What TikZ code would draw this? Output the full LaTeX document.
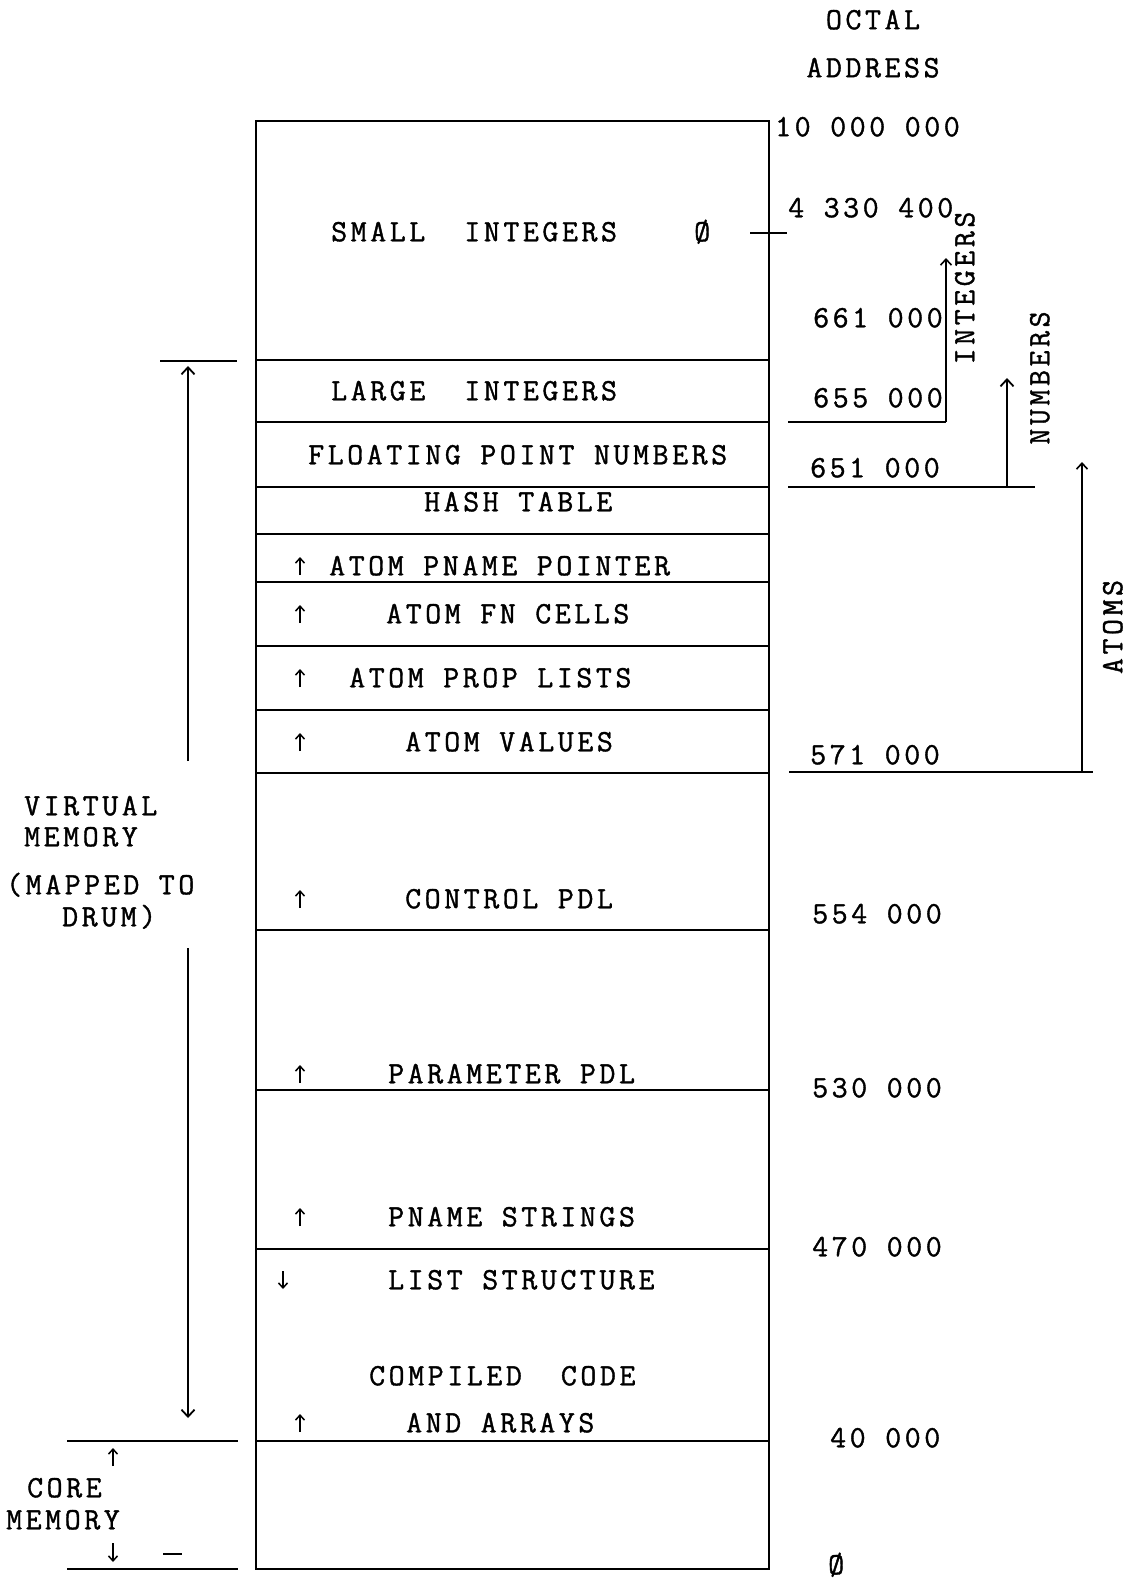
\documentclass[tikz,border=0pt]{standalone}
\usepackage{fontspec}
\setmainfont{Latin Modern Mono}[LetterSpace=11.5,FakeBold=1.2]
\usetikzlibrary{arrows.meta}
\begin{document}
\begin{tikzpicture}[x=1pt,y=-1pt,
  txt/.style={font=\fontsize{31}{36}\selectfont, inner sep=0pt, text height=18.5pt, text depth=0pt, anchor=west},
  rtxt/.style={font=\fontsize{31}{36}\selectfont, inner sep=0pt, text height=18.5pt, text depth=0pt, anchor=center, rotate=90},
  boxline/.style={line width=1.8pt},
  sideline/.style={line width=1.6pt},
  thickline/.style={line width=2.8pt},
  bigarrow/.style={line width=1.6pt, -{Straight Barb[length=7pt,width=13pt,line width=1.8pt]}},
  thinarrow/.style={line width=1.1pt, -{Straight Barb[length=6pt,width=11pt,line width=1.6pt]}},
  smallarrow/.style={line width=1.4pt, -{Straight Barb[length=5pt,width=9pt,line width=1.5pt]}}
]
\useasboundingbox (0,0) rectangle (1129,1581);
% main box
\coordinate (tl) at (256,121);
\coordinate (br) at (769,1569);
\draw[boxline] (tl) rectangle (br);
\foreach \yy in {360,422,487,534,582,646,710,773,930,1090,1249,1441}
  \draw[boxline] (256,\yy) -- (769,\yy);

% box texts
\node[txt] (si) at (331,232) {SMALL\ \ INTEGERS};
\node[txt] (sz) at (694,232) {Ø};
\node[txt] (li) at (331,391) {LARGE\ \ INTEGERS};
\node[txt] (fp) at (308,455) {FLOATING POINT NUMBERS};
\node[txt] (ht) at (424,502) {HASH TABLE};
\node[txt] (ap) at (329,566) {ATOM PNAME POINTER};
\node[txt] (af) at (386,614) {ATOM FN CELLS};
\node[txt] (al) at (349,678) {ATOM PROP LISTS};
\node[txt] (av) at (405,742) {ATOM VALUES};
\node[txt] (cp) at (405,899) {CONTROL PDL};
\node[txt] (pp) at (388,1074) {PARAMETER PDL};
\node[txt] (ps) at (388,1217) {PNAME STRINGS};
\node[txt] (ls) at (388,1280) {LIST STRUCTURE};
\node[txt] (cc) at (369,1376) {COMPILED\ \ CODE};
\node[txt] (aa) at (406,1423) {AND ARRAYS};

% small arrows inside box
\foreach \yy/\nm in {566/a1,614/a2,678/a3,742/a4,899/a5,1074/a6,1217/a7,1423/a8}{
  \coordinate (\nm s) at (300,\yy+9);
  \coordinate (\nm e) at (300,\yy-9);
  \draw[smallarrow] (\nm s) -- (\nm e);
}
\coordinate (lss) at (283,1271);
\coordinate (lse) at (283,1289);
\draw[smallarrow] (lss) -- (lse);

% right side addresses
\node[txt,anchor=center] (oct) at (873,20) {OCTAL};
\node[txt,anchor=center] (adr) at (873,68) {ADDRESS};
\node[txt] (n1) at (775,127) {10 000 000};
\node[txt] (n2) at (788,208) {4 330 400};
\node[txt] (n3) at (813,318) {661 000};
\node[txt] (n4) at (813,398) {655 000};
\node[txt] (n5) at (810,468) {651 000};
\node[txt] (n6) at (810,755) {571 000};
\node[txt] (n7) at (812,914) {554 000};
\node[txt] (n8) at (812,1088) {530 000};
\node[txt] (n9) at (812,1247) {470 000};
\node[txt] (n10) at (830,1438) {40 000};
\node[txt] (n11) at (828,1565) {Ø};

% tick at small integer zero
\coordinate (tk1) at (750,233);
\coordinate (tk2) at (787,233);
\draw[sideline] (tk1) -- (tk2);

% INTEGERS bracket
\coordinate (i1) at (788,422);
\coordinate (i2) at (946,422);
\coordinate (i3) at (946,258);
\draw[sideline] (i1) -- (i2);
\draw[thinarrow] (i2) -- (i3);
\node[rtxt] (intl) at (965,288) {INTEGERS};

% NUMBERS bracket
\coordinate (m1) at (788,487);
\coordinate (m2) at (1035,487);
\coordinate (m3) at (1007,487);
\coordinate (m4) at (1007,378);
\draw[sideline] (m1) -- (m2);
\draw[bigarrow] (m3) -- (m4);
\node[rtxt] (numl) at (1040,378) {NUMBERS};

% ATOMS bracket
\coordinate (t1) at (789,772);
\coordinate (t2) at (1093,772);
\coordinate (t3) at (1082,772);
\coordinate (t4) at (1082,462);
\draw[sideline] (t1) -- (t2);
\draw[thinarrow] (t3) -- (t4);
\node[rtxt] (atl) at (1113,627) {ATOMS};

% left side: virtual memory
\coordinate (v1) at (160,361);
\coordinate (v2) at (237,361);
\draw[thickline] (v1) -- (v2);
\coordinate (va) at (188,761);
\coordinate (vb) at (188,366);
\draw[bigarrow] (va) -- (vb);
\coordinate (vc) at (188,948);
\coordinate (vd) at (188,1418);
\draw[bigarrow] (vc) -- (vd);
\node[txt] (vm1) at (24,806) {VIRTUAL};
\node[txt] (vm2) at (24,837) {MEMORY};
\node[txt] (vm3) at (6,885) {(MAPPED TO};
\node[txt] (vm4) at (62,917) {DRUM)};

% left side: core memory
\coordinate (c1) at (67,1441);
\coordinate (c2) at (238,1441);
\draw[thickline] (c1) -- (c2);
\coordinate (c3) at (67,1569);
\coordinate (c4) at (238,1569);
\draw[thickline] (c3) -- (c4);
\coordinate (ca) at (113,1466);
\coordinate (cb) at (113,1448);
\draw[smallarrow] (ca) -- (cb);
\coordinate (cc1) at (113,1543);
\coordinate (cc2) at (113,1562);
\draw[smallarrow] (cc1) -- (cc2);
\coordinate (d1) at (163,1554);
\coordinate (d2) at (182,1554);
\draw[sideline] (d1) -- (d2);
\node[txt] (cm1) at (27,1488) {CORE};
\node[txt] (cm2) at (6,1520) {MEMORY};
\end{tikzpicture}
\end{document}
